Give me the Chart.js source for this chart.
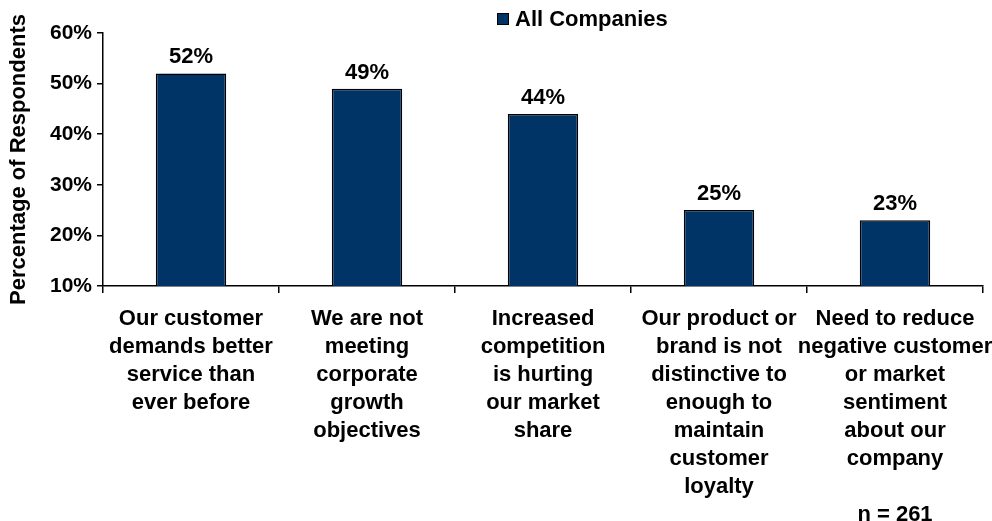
<!DOCTYPE html>
<html>
<head>
<meta charset="utf-8">
<script src="https://cdn.jsdelivr.net/npm/chart.js@4/dist/chart.umd.min.js"></script>
<style>
  body { margin: 0; background: #fff; }
  canvas { display: block; }
</style>
</head>
<body>
<canvas id="chart" width="992" height="521"></canvas>
<script>
const categories = [
  ["Our customer", "demands better", "service than", "ever before"],
  ["We are not", "meeting", "corporate", "growth", "objectives"],
  ["Increased", "competition", "is hurting", "our market", "share"],
  ["Our product or", "brand is not", "distinctive to", "enough to", "maintain", "customer", "loyalty"],
  ["Need to reduce", "negative customer", "or market", "sentiment", "about our", "company", "", "n = 261"],
];
const seriesName = "All Companies";
const values = [52, 49, 44, 25, 23];
const yTicks = [10, 20, 30, 40, 50, 60];

const FONT = "'Liberation Sans', Arial, sans-serif";
const BAR = "#003366";

// value labels above the bars
const valueLabels = {
  id: "valueLabels",
  afterDatasetsDraw(chart) {
    const ctx = chart.ctx;
    const meta = chart.getDatasetMeta(0);
    ctx.save();
    ctx.font = "bold 22px " + FONT;
    ctx.fillStyle = "#000";
    ctx.textAlign = "center";
    ctx.textBaseline = "alphabetic";
    meta.data.forEach((bar, i) => {
      ctx.fillText(values[i] + "%", bar.x, bar.y - 10);
    });
    ctx.restore();
  },
};

// small legend placed at the top, like the original
const topLegend = {
  id: "topLegend",
  afterDraw(chart) {
    const ctx = chart.ctx;
    const ds = chart.data.datasets[0];
    ctx.save();
    ctx.fillStyle = ds.backgroundColor;
    ctx.strokeStyle = "#000";
    ctx.lineWidth = 1;
    ctx.fillRect(497, 13, 12, 12);
    ctx.strokeRect(497.5, 13.5, 11, 11);
    ctx.fillStyle = "#000";
    ctx.font = "bold 22px " + FONT;
    ctx.textBaseline = "middle";
    ctx.textAlign = "left";
    ctx.fillText(ds.label, 515, 20);
    ctx.restore();
  },
};

new Chart(document.getElementById("chart"), {
  type: "bar",
  data: {
    labels: categories,
    datasets: [{
      label: seriesName,
      data: values,
      backgroundColor: BAR,
      borderColor: "#000",
      borderWidth: 1.5,
      barPercentage: 0.8,
      categoryPercentage: 0.5,
    }],
  },
  options: {
    responsive: false,
    animation: false,
    layout: { padding: { top: 33, right: 9, left: 0, bottom: 0 } },
    plugins: {
      legend: { display: false },
      tooltip: { enabled: false },
    },
    scales: {
      x: {
        afterFit: (scale) => { scale.height -= 9; scale.paddingRight = 0; scale.paddingLeft = 0; },
        grid: { drawOnChartArea: false, drawTicks: true, tickLength: 7, color: "#000", lineWidth: 1.5 },
        border: { display: true, color: "#000", width: 1.5 },
        ticks: {
          autoSkip: false,
          maxRotation: 0,
          minRotation: 0,
          padding: 12,
          color: "#000",
          font: { family: FONT, size: 22, weight: "bold", lineHeight: 1.27 },
        },
      },
      y: {
        min: yTicks[0],
        max: yTicks[yTicks.length - 1],
        afterBuildTicks: (scale) => { scale.ticks = yTicks.map((v) => ({ value: v })); },
        afterFit: (scale) => { scale.width = 103; },
        grid: { drawOnChartArea: false, drawTicks: true, tickLength: 6, color: "#000", lineWidth: 1.5 },
        border: { display: true, color: "#000", width: 1.5 },
        ticks: {
          padding: 5,
          color: "#000",
          font: { family: FONT, size: 21, weight: "bold" },
          callback: (v) => v + "%",
        },
        title: {
          display: true,
          text: "Percentage of Respondents",
          color: "#000",
          padding: { top: 6, bottom: 0 },
          font: { family: FONT, size: 22, weight: "bold" },
        },
      },
    },
  },
  plugins: [valueLabels, topLegend],
});
</script>
</body>
</html>
